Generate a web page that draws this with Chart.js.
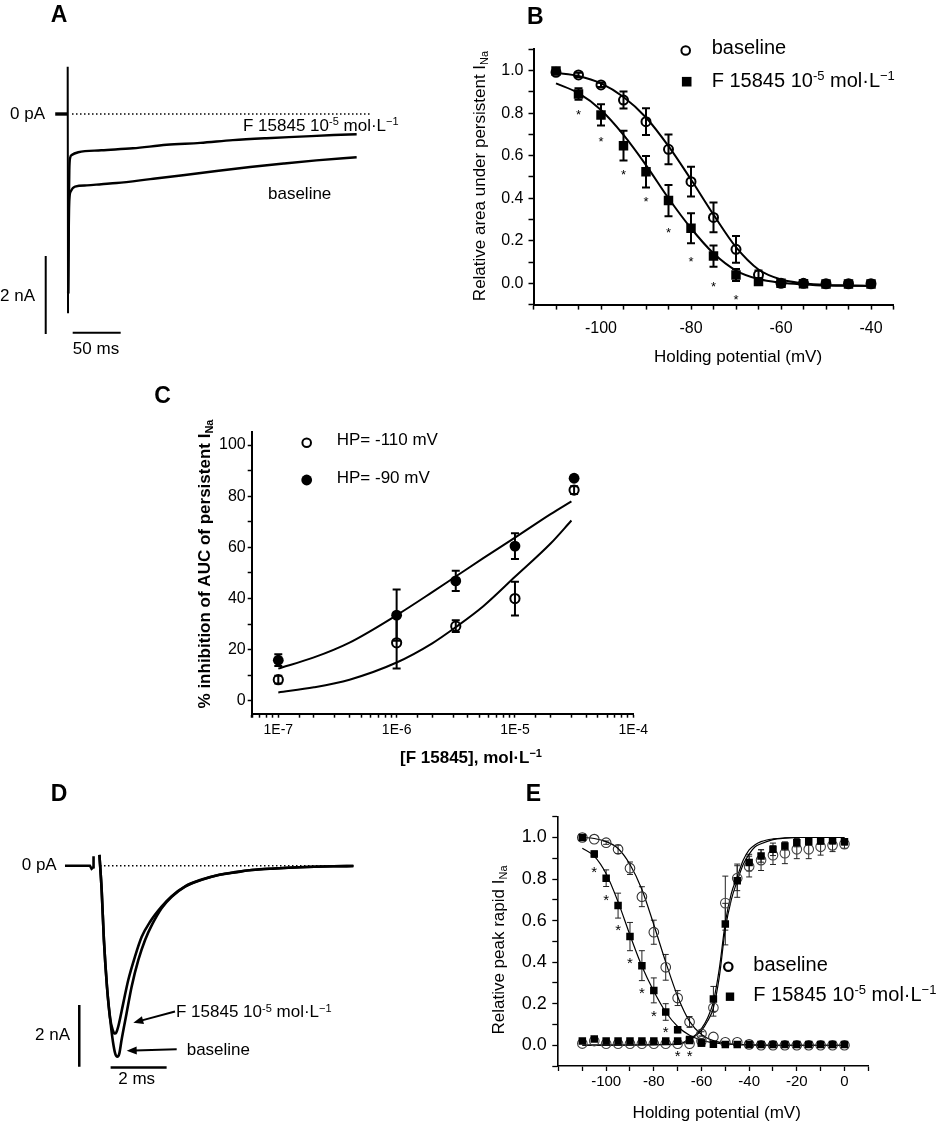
<!DOCTYPE html>
<html>
<head>
<meta charset="utf-8">
<script src="https://cdn.jsdelivr.net/npm/chart.js@4.4.1/dist/chart.umd.min.js"></script>
<style>
  html, body { margin: 0; padding: 0; background: #fff; }
  #page { position: relative; width: 945px; height: 1123px; background: #fff; overflow: hidden; }
  canvas { position: absolute; }
</style>
</head>
<body>
<div id="page">
  <canvas id="cA" width="420" height="370" style="left:0px;top:0px"></canvas>
  <canvas id="cB" width="505" height="370" style="left:440px;top:0px"></canvas>
  <canvas id="cC" width="520" height="400" style="left:150px;top:380px"></canvas>
  <canvas id="cD" width="420" height="343" style="left:0px;top:780px"></canvas>
  <canvas id="cE" width="505" height="343" style="left:440px;top:780px"></canvas>
</div>
<script>
const FONT = "'Liberation Sans', Arial, Helvetica, sans-serif";
Chart.defaults.font.family = FONT;
Chart.defaults.color = '#000';

// ---------- A : persistent current traces (time ms, current nA) ----------
const aPreT = [-13, -0.4];
const aPreI = [0, 0];
const aSpikeT = [-0.4, 0, 0.35];
const aSpikeI = [0, 1.21, -5.11];
const aBaseT = [0.5, 1.1, 1.7, 3.1, 7.6, 20, 35, 51, 86, 120, 155, 190, 225, 259, 301];
const aBaseI = [-4.6, -3.0, -2.2, -1.99, -1.86, -1.83, -1.8, -1.77, -1.67, -1.57, -1.46, -1.36, -1.27, -1.19, -1.11];
const aDrugT = [0.5, 1.1, 1.7, 2.4, 4.2, 11, 35, 68, 103, 138, 172, 207, 242, 277, 301];
const aDrugI = [-4.6, -2.5, -1.44, -1.14, -1.05, -0.98, -0.93, -0.88, -0.79, -0.74, -0.67, -0.62, -0.58, -0.54, -0.52];
const aZeroT = [4.5, 316];
const aBarVT = [-22.9, -22.9];   // 2 nA bar
const aBarVI = [-3.64, -5.64];
const aBarHT = [5.2, 55.2];      // 50 ms bar
const aBarHI = [-5.61, -5.61];

// ---------- B : relative area under persistent INa ----------
const bVolt = [-110, -105, -100, -95, -90, -85, -80, -75, -70, -65, -60, -55, -50, -45, -40];
const bBase = [0.992, 0.98, 0.933, 0.862, 0.76, 0.63, 0.478, 0.31, 0.16, 0.04, 0.0, 0.0, -0.002, -0.002, -0.002];
const bBaseErr = [0, 0.01, 0.01, 0.04, 0.063, 0.07, 0.07, 0.07, 0.063, 0.02, 0, 0, 0, 0, 0];
const bDrug = [0.998, 0.89, 0.792, 0.647, 0.525, 0.389, 0.259, 0.128, 0.039, 0.008, 0.0, -0.002, -0.003, -0.003, -0.003];
const bDrugErr = [0, 0.027, 0.05, 0.07, 0.074, 0.073, 0.07, 0.05, 0.028, 0, 0, 0, 0, 0, 0];
const bStarV = [-105, -100, -95, -90, -85, -80, -75, -70];
const bStarY = [0.807, 0.679, 0.525, 0.4, 0.254, 0.118, 0.0, -0.063];
const bFitV = [-110, -105, -100, -95, -90, -85, -80, -75, -70, -65, -60, -55, -50, -45, -40];
const bFitBase = [0.99, 0.975, 0.94, 0.876, 0.78, 0.645, 0.488, 0.323, 0.17, 0.065, 0.018, 0.0, -0.008, -0.01, -0.012];
const bFitDrug = [0.94, 0.894, 0.815, 0.698, 0.556, 0.40, 0.259, 0.141, 0.06, 0.02, 0.003, -0.005, -0.01, -0.011, -0.012];

// ---------- C : % inhibition vs concentration ----------
const cConc = [1e-7, 1e-6, 3.16e-6, 1e-5, 3.16e-5];
const cHP110 = [8.3, 22.7, 29.2, 40.0, 82.4];
const cHP110Err = [1.5, 10, 2.3, 6.6, 1.5];
const cHP90 = [15.9, 33.5, 46.9, 60.5, 87.0];
const cHP90Err = [2.3, 10, 4, 5, 1];
const cFitConc = [1e-7, 2e-7, 4e-7, 1e-6, 2e-6, 3.2e-6, 5.4e-6, 1e-5, 2e-5, 3e-5];
const cFit90 = [12.6, 17.0, 22.8, 33.5, 42.5, 48.8, 55.8, 63.8, 73.0, 78.0];
const cFit110 = [3.3, 5.3, 8.3, 15.0, 22.5, 29.0, 37.0, 48.5, 61.5, 70.5];

// ---------- D : peak current traces (time ms, current nA) ----------
const dPreT = [-1.25, -0.36, -0.3, -0.24, -0.23];
const dPreI = [0, 0, -0.1, -0.05, 0.31];
const dBaseT = [-0.02, 0.06, 0.14, 0.25, 0.36, 0.46, 0.55, 0.62, 0.69, 0.77, 0.95, 1.13, 1.37, 1.61, 1.85, 2.2, 2.56, 3.04, 3.63, 4.23, 4.82, 5.42, 6.25, 7.14, 8.33, 9.05];
const dBaseI = [0.35, -0.79, -2.41, -3.93, -4.95, -5.7, -6.12, -6.2, -6.1, -5.66, -4.79, -3.93, -3.06, -2.41, -1.93, -1.38, -1.01, -0.68, -0.46, -0.3, -0.22, -0.14, -0.09, -0.05, -0.02, -0.01];
const dDrugT = [-0.02, 0.06, 0.14, 0.25, 0.36, 0.46, 0.53, 0.58, 0.65, 0.83, 1.01, 1.25, 1.49, 1.79, 2.2, 2.56, 3.04, 3.63, 4.23, 4.82, 5.42, 6.25, 7.14, 8.33, 9.05];
const dDrugI = [0.35, -0.79, -2.41, -3.93, -4.95, -5.35, -5.45, -5.42, -5.23, -4.47, -3.71, -2.95, -2.31, -1.82, -1.33, -0.99, -0.67, -0.45, -0.3, -0.21, -0.14, -0.09, -0.05, -0.02, -0.01];
const dZeroT = [0, 9.05];
const dBarVT = [-0.74, -0.74];   // 2 nA bar
const dBarVI = [-4.52, -6.53];
const dBarHT = [0.38, 2.38];     // 2 ms bar
const dBarHI = [-6.55, -6.55];

// ---------- E : inactivation / activation of peak INa ----------
const eVolt = [-110, -105, -100, -95, -90, -85, -80, -75, -70, -65, -60, -55, -50, -45, -40, -35, -30, -25, -20, -15, -10, -5, 0];
const eInBase = [1.0, 0.992, 0.975, 0.943, 0.852, 0.715, 0.544, 0.375, 0.227, 0.112, 0.055, 0.04, 0.014, 0.014, 0.004, 0, 0, 0, 0, 0, 0, 0, 0];
const eInBaseErr = [0, 0, 0.008, 0.02, 0.03, 0.048, 0.058, 0.062, 0.036, 0.026, 0.01, 0, 0, 0, 0, 0, 0, 0, 0, 0, 0, 0, 0];
const eInDrug = [1.0, 0.92, 0.804, 0.672, 0.523, 0.383, 0.264, 0.16, 0.075, 0.027, 0.011, 0.005, 0.004, 0.003, 0.003, 0.003, 0.003, 0.003, 0.003, 0.003, 0.003, 0.003, 0.003];
const eInDrugErr = [0, 0.015, 0.04, 0.06, 0.068, 0.072, 0.06, 0.04, 0.015, 0, 0, 0, 0, 0, 0, 0, 0, 0, 0, 0, 0, 0, 0];
const eActBase = [0.008, 0.02, 0.007, 0.007, 0.007, 0.007, 0.007, 0.007, 0.007, 0.007, 0.02, 0.18, 0.684, 0.804, 0.86, 0.891, 0.915, 0.924, 0.943, 0.943, 0.955, 0.962, 0.968];
const eActBaseErr = [0, 0, 0, 0, 0, 0, 0, 0, 0, 0, 0.01, 0.04, 0.13, 0.06, 0.05, 0.05, 0.045, 0.05, 0.045, 0.045, 0.04, 0.03, 0.02];
const eActDrug = [0.02, 0.03, 0.02, 0.02, 0.02, 0.02, 0.02, 0.02, 0.02, 0.023, 0.011, 0.223, 0.583, 0.792, 0.879, 0.911, 0.943, 0.959, 0.975, 0.979, 0.983, 0.984, 0.979];
const eActDrugErr = [0.008, 0.01, 0, 0, 0, 0, 0, 0, 0, 0, 0, 0.06, 0.1, 0.08, 0.04, 0.03, 0.03, 0.02, 0.02, 0.015, 0.015, 0.015, 0.015];
const eStarV = [-105, -100, -95, -90, -85, -80, -75, -70, -65];
const eStarY = [0.852, 0.715, 0.571, 0.415, 0.267, 0.158, 0.083, -0.032, -0.032];
const eFitInV = [-110, -105, -100, -95, -90, -85, -80, -75, -70, -65, -60, -55, -50, -45, -40, -35, -30, -20, -10, 0];
const eFitInBase = [1.0, 0.995, 0.98, 0.947, 0.87, 0.75, 0.58, 0.40, 0.235, 0.115, 0.052, 0.022, 0.009, 0.004, 0.002, 0.001, 0, 0, 0, 0];
const eFitInDrug = [0.948, 0.91, 0.825, 0.69, 0.53, 0.38, 0.26, 0.16, 0.09, 0.048, 0.024, 0.012, 0.006, 0.003, 0.001, 0, 0, 0, 0, 0];
const eFitActV = [-110, -70, -65, -62.5, -60, -57.5, -55, -52.5, -50, -47.5, -45, -42.5, -40, -37.5, -35, -30, -25, -20, -10, 0];
const eFitActBase = [0, 0.004, 0.025, 0.045, 0.07, 0.115, 0.18, 0.33, 0.56, 0.70, 0.79, 0.87, 0.92, 0.955, 0.97, 0.99, 0.997, 1.0, 1.0, 1.0];
const eFitActDrug = [0, 0.006, 0.03, 0.05, 0.08, 0.13, 0.21, 0.37, 0.59, 0.73, 0.81, 0.89, 0.94, 0.965, 0.98, 0.993, 0.998, 1.0, 1.0, 1.0];

// ---------- helpers ----------
const pts = (xs, ys) => xs.map((x, i) => ({ x, y: ys[i] }));
const SUPER = (a, b) => [[a, ''], [b, 'sup']];
const drugLabel = [['F 15845 10', ''], ['-5', 'sup'], [' mol·L', ''], ['−1', 'sup']];

function drawRich(ctx, t) {
  const size = t.size || 17;
  const weight = t.bold ? 'bold ' : '';
  const parts = typeof t.text === 'string' ? [[t.text, '']] : t.text;
  const fontFor = k => weight + (k ? Math.round(size * 0.64) : size) + 'px ' + FONT;
  ctx.save();
  ctx.translate(t.x, t.y);
  if (t.rotate) ctx.rotate(t.rotate);
  ctx.fillStyle = '#000';
  ctx.textBaseline = 'middle';
  ctx.textAlign = 'left';
  let total = 0;
  parts.forEach(([s, k]) => { ctx.font = fontFor(k); total += ctx.measureText(s).width; });
  let x = t.align === 'center' ? -total / 2 : t.align === 'right' ? -total : 0;
  parts.forEach(([s, k]) => {
    ctx.font = fontFor(k);
    const dy = k === 'sup' ? -size * 0.24 : k === 'sub' ? size * 0.27 : 0;
    ctx.fillText(s, x, dy);
    x += ctx.measureText(s).width;
  });
  ctx.restore();
}

function drawMark(ctx, m) {
  ctx.save();
  ctx.beginPath();
  if (m.shape === 'rect') ctx.rect(m.x - m.r, m.y - m.r, 2 * m.r, 2 * m.r);
  else ctx.arc(m.x, m.y, m.r, 0, Math.PI * 2);
  if (m.fill) { ctx.fillStyle = '#000'; ctx.fill(); }
  else { ctx.lineWidth = m.lw || 2; ctx.strokeStyle = '#000'; ctx.stroke(); }
  ctx.restore();
}

function drawArrow(ctx, a) {
  const ang = Math.atan2(a.y2 - a.y1, a.x2 - a.x1), h = 10, w = 4;
  ctx.save();
  ctx.strokeStyle = '#000'; ctx.fillStyle = '#000'; ctx.lineWidth = 2;
  ctx.beginPath();
  ctx.moveTo(a.x1, a.y1);
  ctx.lineTo(a.x2 - Math.cos(ang) * h * 0.8, a.y2 - Math.sin(ang) * h * 0.8);
  ctx.stroke();
  ctx.beginPath();
  ctx.moveTo(a.x2, a.y2);
  ctx.lineTo(a.x2 - Math.cos(ang) * h - Math.sin(ang) * w, a.y2 - Math.sin(ang) * h + Math.cos(ang) * w);
  ctx.lineTo(a.x2 - Math.cos(ang) * h + Math.sin(ang) * w, a.y2 - Math.sin(ang) * h - Math.cos(ang) * w);
  ctx.closePath();
  ctx.fill();
  ctx.restore();
}

// error bars, asterisks, labels and legend symbols
function extras(cfg) {
  return {
    id: 'extras',
    beforeDatasetsDraw(chart) {
      const ctx = chart.ctx, xs = chart.scales.x, ys = chart.scales.y;
      chart.data.datasets.forEach(ds => {
        if (!ds.errors) return;
        ctx.save();
        ctx.strokeStyle = ds.errColor || '#000';
        ctx.lineWidth = ds.errWidth || 2;
        const c = ds.cap || 4;
        ds.data.forEach((p, j) => {
          const e = ds.errors[j];
          if (!e) return;
          const px = xs.getPixelForValue(p.x);
          const hi = ys.getPixelForValue(p.y + e), lo = ys.getPixelForValue(p.y - e);
          ctx.beginPath();
          ctx.moveTo(px, hi); ctx.lineTo(px, lo);
          ctx.moveTo(px - c, hi); ctx.lineTo(px + c, hi);
          ctx.moveTo(px - c, lo); ctx.lineTo(px + c, lo);
          ctx.stroke();
        });
        ctx.restore();
      });
    },
    afterDatasetsDraw(chart) {
      const st = cfg.stars;
      if (!st) return;
      const ctx = chart.ctx, xs = chart.scales.x, ys = chart.scales.y;
      ctx.save();
      ctx.fillStyle = '#000';
      ctx.font = st.size + 'px ' + FONT;
      ctx.textAlign = 'center';
      ctx.textBaseline = 'alphabetic';
      st.x.forEach((v, i) => {
        ctx.fillText('*', xs.getPixelForValue(v), ys.getPixelForValue(st.y[i]) + st.size * 0.58);
      });
      ctx.restore();
    },
    afterDraw(chart) {
      const ctx = chart.ctx;
      (cfg.marks || []).forEach(m => drawMark(ctx, m));
      (cfg.arrows || []).forEach(a => drawArrow(ctx, a));
      (cfg.texts || []).forEach(t => drawRich(ctx, t));
    }
  };
}

function baseOptions(scales, padding) {
  return {
    responsive: false,
    devicePixelRatio: 1,
    animation: false,
    events: [],
    layout: { padding: padding || 0, autoPadding: false },
    plugins: { legend: { display: false }, tooltip: { enabled: false } },
    scales
  };
}

const hidden = (min, max) => ({ type: 'linear', display: false, min, max });

function axis(type, min, max, o) {
  return {
    type, min, max,
    afterFit: o.fit,
    border: { display: true, color: '#000', width: o.bw || 2 },
    grid: { display: true, drawOnChartArea: false, drawTicks: true, tickLength: o.tl || 5, tickWidth: o.tw || 1.5, tickColor: '#000' },
    ticks: {
      stepSize: o.step, autoSkip: false, maxRotation: 0, minRotation: 0, includeBounds: false,
      padding: o.pad, color: '#000', font: { size: o.size, family: FONT }, callback: o.label
    }
  };
}

const trace = (data, w, smooth = true) => ({
  data, showLine: true, pointRadius: 0, borderColor: '#000', borderWidth: w,
  cubicInterpolationMode: smooth ? 'monotone' : 'default', tension: 0, order: 3
});
const dotted = data => ({
  data, showLine: true, pointRadius: 0, borderColor: '#000', borderWidth: 1.4,
  borderDash: [1.5, 2.5], order: 4
});
const circles = (data, errors, r, lw, color, err) => Object.assign({
  data, errors, showLine: false, pointStyle: 'circle', pointRadius: r,
  pointBorderWidth: lw, pointBorderColor: color, pointBackgroundColor: 'rgba(0,0,0,0)', order: 2
}, err);
const discs = (data, errors, r, err) => Object.assign({
  data, errors, showLine: false, pointStyle: 'circle', pointRadius: r,
  pointBorderWidth: 0, pointBackgroundColor: '#000', order: 1
}, err);
const squares = (data, errors, r, err) => Object.assign({
  data, errors, showLine: false, pointStyle: 'rect', pointRadius: r,
  pointBorderWidth: 0, pointBackgroundColor: '#000', order: 1
}, err);

const tenths = v => { const k = Math.round(v * 10); return (k >= 0 && k % 2 === 0) ? (k / 10).toFixed(1) : ''; };

// ---------- A ----------
new Chart(document.getElementById('cA'), {
  type: 'scatter',
  data: { datasets: [
    trace(pts(aPreT, aPreI), 3.4, false),
    trace(pts(aSpikeT, aSpikeI), 2, false),
    trace(pts(aBaseT, aBaseI), 2.4),
    trace(pts(aDrugT, aDrugI), 2.4),
    dotted(pts(aZeroT, [0, 0])),
    trace(pts(aBarVT, aBarVI), 2, false),
    trace(pts(aBarHT, aBarHI), 2, false)
  ] },
  options: baseOptions({ x: hidden(-70.52, 366.98), y: hidden(-6.564, 2.923) }),
  plugins: [extras({
    texts: [
      { x: 59, y: 16, text: 'A', size: 23, bold: true, align: 'center' },
      { x: 45, y: 114, text: '0 pA', align: 'right' },
      { x: 243, y: 126, text: drugLabel },
      { x: 268, y: 194, text: 'baseline' },
      { x: 35, y: 296, text: '2 nA', align: 'right' },
      { x: 96, y: 349, text: '50 ms', align: 'center' }
    ]
  })]
});

// ---------- B ----------
new Chart(document.getElementById('cB'), {
  type: 'scatter',
  data: { datasets: [
    trace(pts(bFitV, bFitBase), 2),
    trace(pts(bFitV, bFitDrug), 2),
    circles(pts(bVolt, bBase), bBaseErr, 4.5, 2, '#000', { cap: 4, errWidth: 2 }),
    squares(pts(bVolt, bDrug), bDrugErr, 6.7, { cap: 4, errWidth: 2 })
  ] },
  options: baseOptions({
    x: axis('linear', -115, -35, { fit: s => { s.height = 65.4; }, step: 5, pad: 9, size: 16,
      label: v => (v % 20 === 0 ? String(v) : '') }),
    y: axis('linear', -0.1, 1.1, { fit: s => { s.width = 93.5; }, step: 0.1, pad: 5, size: 16, label: tenths })
  }, { left: 0, top: 49.4, right: 51.5, bottom: 0 }),
  plugins: [extras({
    stars: { x: bStarV, y: bStarY, size: 13 },
    marks: [
      { x: 245.7, y: 50.5, shape: 'circle', r: 4.3, lw: 2 },
      { x: 246.7, y: 81.7, shape: 'rect', r: 4.8, fill: true }
    ],
    texts: [
      { x: 95.3, y: 17.5, text: 'B', size: 23, bold: true, align: 'center' },
      { x: 40, y: 176, rotate: -Math.PI / 2, align: 'center', text: [['Relative area under persistent I', ''], ['Na', 'sub']] },
      { x: 298, y: 357, align: 'center', text: 'Holding potential (mV)' },
      { x: 271.7, y: 48.5, size: 20, text: 'baseline' },
      { x: 271.7, y: 81.5, size: 20, text: drugLabel }
    ]
  })]
});

// ---------- C ----------
new Chart(document.getElementById('cC'), {
  type: 'scatter',
  data: { datasets: [
    trace(pts(cFitConc, cFit90), 2),
    trace(pts(cFitConc, cFit110), 2),
    circles(pts(cConc, cHP110), cHP110Err, 4.6, 2, '#000', { cap: 4, errWidth: 2 }),
    discs(pts(cConc, cHP90), cHP90Err, 5.4, { cap: 4, errWidth: 2 })
  ] },
  options: baseOptions({
    x: axis('logarithmic', 5.96e-8, 1e-4, { fit: s => { s.height = 66.3; }, pad: 4, tl: 4, size: 14,
      label: v => { const l = Math.log10(v); return Math.abs(l - Math.round(l)) < 1e-6 ? '1E' + Math.round(l) : ''; } }),
    y: axis('linear', -5, 105.2, { fit: s => { s.width = 101.7; }, step: 10, pad: 2, tl: 4, size: 16,
      label: v => (v % 20 === 0 ? String(v) : '') })
  }, { left: 0, top: 51.7, right: 36.7, bottom: 0 }),
  plugins: [extras({
    marks: [
      { x: 156.7, y: 62.7, shape: 'circle', r: 4.3, lw: 2 },
      { x: 156.7, y: 100, shape: 'circle', r: 5.4, fill: true }
    ],
    texts: [
      { x: 12.5, y: 16.7, text: 'C', size: 23, bold: true, align: 'center' },
      { x: 55, y: 184, rotate: -Math.PI / 2, align: 'center', bold: true, text: [['% inhibition of AUC of persistent I', ''], ['Na', 'sub']] },
      { x: 321, y: 378, align: 'center', bold: true, text: SUPER('[F 15845], mol·L', '−1') },
      { x: 186.7, y: 60.7, text: 'HP= -110 mV' },
      { x: 186.7, y: 98.3, text: 'HP= -90 mV' }
    ]
  })]
});

// ---------- D ----------
new Chart(document.getElementById('cD'), {
  type: 'scatter',
  data: { datasets: [
    trace(pts(dPreT, dPreI), 2.6, false),
    trace(pts(dBaseT, dBaseI), 2.6),
    trace(pts(dDrugT, dDrugI), 2.6),
    dotted(pts(dZeroT, [0, 0])),
    trace(pts(dBarVT, dBarVI), 2.5, false),
    trace(pts(dBarHT, dBarHI), 2.5, false)
  ] },
  options: baseOptions({ x: hidden(-3.571, 11.429), y: hidden(-8.354, 2.782) }),
  plugins: [extras({
    arrows: [
      { x1: 175, y1: 231.5, x2: 133.3, y2: 242.7 },
      { x1: 176.7, y1: 269.3, x2: 126.7, y2: 270.7 }
    ],
    texts: [
      { x: 59, y: 15, text: 'D', size: 23, bold: true, align: 'center' },
      { x: 56.7, y: 85, text: '0 pA', align: 'right' },
      { x: 176, y: 232.7, text: drugLabel },
      { x: 186.7, y: 270.6, text: 'baseline' },
      { x: 70, y: 255.7, text: '2 nA', align: 'right' },
      { x: 136.7, y: 299, text: '2 ms', align: 'center' }
    ]
  })]
});

// ---------- E ----------
const eErr = { cap: 3, errWidth: 1, errColor: '#222' };
new Chart(document.getElementById('cE'), {
  type: 'scatter',
  data: { datasets: [
    trace(pts(eFitInV, eFitInBase), 1.2),
    trace(pts(eFitInV, eFitInDrug), 1.2),
    trace(pts(eFitActV, eFitActBase), 1.2),
    trace(pts(eFitActV, eFitActDrug), 1.2),
    circles(pts(eVolt, eInBase), eInBaseErr, 4.8, 1.1, '#333', eErr),
    circles(pts(eVolt, eActBase), eActBaseErr, 4.8, 1.1, '#444', eErr),
    squares(pts(eVolt, eInDrug), eInDrugErr, 5.3, eErr),
    squares(pts(eVolt, eActDrug), eActDrugErr, 5.3, eErr)
  ] },
  options: baseOptions({
    x: axis('linear', -120.5, 10, { fit: s => { s.height = 57; }, step: 10, pad: 2, size: 15, bw: 1.6, tw: 1.3,
      label: v => (v % 20 === 0 && v >= -100 ? String(v) : '') }),
    y: axis('linear', -0.1, 1.1, { fit: s => { s.width = 117.3; }, step: 0.1, pad: 5.5, size: 18, bw: 1.6, tw: 1.3, label: tenths })
  }, { left: 0, top: 36.7, right: 76.7, bottom: 0 }),
  plugins: [extras({
    stars: { x: eStarV, y: eStarY, size: 15 },
    marks: [
      { x: 288.3, y: 186.7, shape: 'circle', r: 4.2, lw: 2.2 },
      { x: 290, y: 216.7, shape: 'rect', r: 4.2, fill: true }
    ],
    texts: [
      { x: 93.3, y: 15, text: 'E', size: 23, bold: true, align: 'center' },
      { x: 59, y: 170, rotate: -Math.PI / 2, align: 'center', text: [['Relative peak rapid I', ''], ['Na', 'sub']] },
      { x: 276.7, y: 333.3, align: 'center', text: 'Holding potential (mV)' },
      { x: 313.3, y: 185, size: 20, text: 'baseline' },
      { x: 313.3, y: 215, size: 20, text: drugLabel }
    ]
  })]
});
</script>
</body>
</html>
